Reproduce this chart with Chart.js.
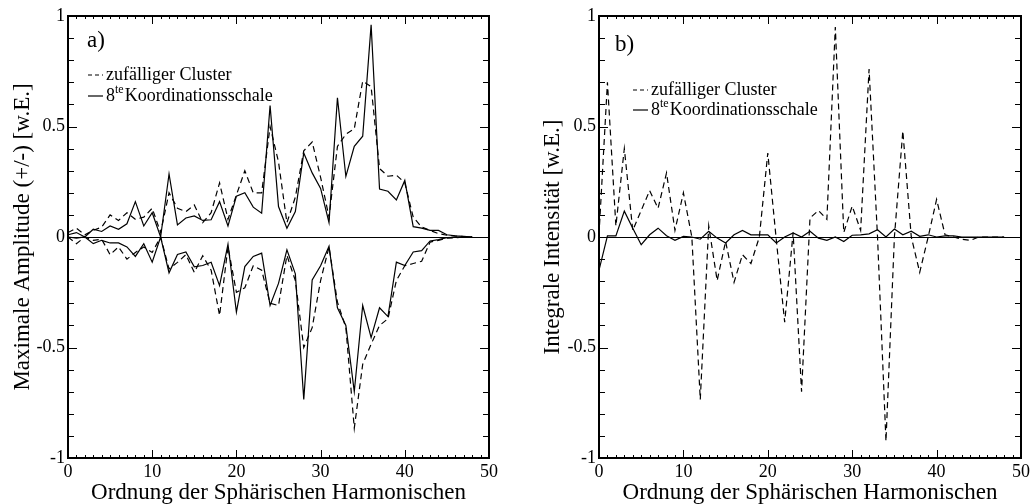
<!DOCTYPE html>
<html>
<head>
<meta charset="utf-8">
<script src="https://cdn.jsdelivr.net/npm/chart.js@4.4.0/dist/chart.umd.min.js"></script>
<style>
html, body { margin: 0; padding: 0; background: #fff; }
#wrap { position: relative; width: 1033px; height: 504px; }
.box { position: absolute; top: 0; height: 504px; }
</style>
</head>
<body>
<div id="wrap">
  <div class="box" style="left:0;width:516px"><canvas id="grafA" width="516" height="504"></canvas></div>
  <div class="box" style="left:516px;width:517px"><canvas id="grafB" width="517" height="504"></canvas></div>
</div>
<script>
// Ordnung l = 0 .. 48
var ordnung = [0,1,2,3,4,5,6,7,8,9,10,11,12,13,14,15,16,17,18,19,20,21,22,23,24,
               25,26,27,28,29,30,31,32,33,34,35,36,37,38,39,40,41,42,43,44,45,46,47,48];

// a) Maximale Amplitude, zufaelliger Cluster (gestrichelt)
var clusterMax = [0.02,0.04,0.01,0.03,0.045,0.10,0.075,0.11,0.08,0.09,0.13,0.02,0.20,0.13,0.115,0.145,0.065,0.11,0.245,0.08,
                  0.19,0.30,0.20,0.20,0.50,0.34,0.065,0.18,0.39,0.43,0.27,0.09,0.41,0.465,0.49,0.705,0.68,0.31,0.275,0.28,
                  0.245,0.09,0.045,0.03,0.015,0.008,0.004,0.002,0.0];
var clusterMin = [0.0,-0.03,0.0,-0.015,-0.01,-0.08,-0.045,-0.10,-0.07,-0.045,-0.07,0.0,-0.145,-0.115,-0.08,-0.16,-0.085,-0.15,-0.355,-0.045,
                  -0.25,-0.23,-0.13,-0.15,-0.30,-0.31,-0.083,-0.197,-0.50,-0.41,-0.197,-0.045,-0.295,-0.41,-0.865,-0.576,-0.485,-0.40,-0.37,-0.197,
                  -0.13,-0.12,-0.11,-0.023,-0.015,-0.005,-0.003,-0.001,0.0];
// a) 8te Koordinationsschale (durchgezogen)
var schaleMax = [0.01,0.02,0.0,0.035,0.025,0.05,0.035,0.06,0.16,0.05,0.11,0.0,0.285,0.055,0.086,0.095,0.075,0.078,0.16,0.05,
                 0.185,0.20,0.135,0.108,0.595,0.138,0.04,0.115,0.38,0.29,0.22,0.065,0.63,0.274,0.41,0.456,0.96,0.217,0.207,0.168,
                 0.256,0.047,0.04,0.03,0.03,0.01,0.005,0.003,0.0];
var schaleMin = [0.0,-0.005,0.0,-0.03,-0.015,-0.027,-0.027,-0.045,-0.088,-0.03,-0.114,0.0,-0.162,-0.079,-0.068,-0.135,-0.129,-0.114,-0.22,-0.033,
                 -0.34,-0.134,-0.088,-0.073,-0.31,-0.21,-0.058,-0.167,-0.735,-0.194,-0.13,-0.042,-0.32,-0.40,-0.70,-0.31,-0.455,-0.32,-0.36,-0.114,
                 -0.129,-0.068,-0.062,-0.018,-0.012,-0.003,-0.002,-0.001,0.0];

// b) Integrale Intensitaet
var clusterInt = [0.01,0.70,0.05,0.40,0.03,0.12,0.21,0.13,0.29,0.03,0.20,0.0,-0.735,0.05,-0.197,-0.02,-0.205,-0.08,-0.12,0.0,
                  0.38,-0.01,-0.386,0.02,-0.70,0.086,0.12,0.08,0.95,0.02,0.14,0.03,0.76,0.0,-0.924,0.0,0.48,0.0,-0.16,0.0,
                  0.17,0.01,0.0,-0.01,-0.015,0.0,0.0,0.0,0.0];
var schaleInt = [-0.15,0.005,0.005,0.117,0.04,-0.035,0.01,0.04,0.006,-0.015,0.003,0.0,-0.01,0.026,-0.005,-0.027,0.01,0.03,0.01,0.01,
                 0.01,-0.027,0.0,0.018,0.0,0.026,-0.005,-0.015,0.0,-0.02,0.008,0.01,0.014,0.033,0.0,0.036,0.01,0.026,0.003,0.01,
                 0.0,0.005,0.005,0.0,0.0,0.0,0.0,0.0,0.0];

var yTicks = [-1, -0.5, 0, 0.5, 1];
var serif = '"Liberation Serif", "Times New Roman", serif';

function punkte(werte) {
    return ordnung.map(function(n, i){ return {x: n, y: werte[i]}; });
}

function linie(label, werte, gestrichelt) {
    return {
        label: label,
        data: punkte(werte),
        borderColor: '#000',
        borderWidth: 1.2,
        borderDash: gestrichelt ? [6, 4] : [],
        pointRadius: 0,
        tension: 0,
        fill: false
    };
}

// Rahmen, Striche nach innen, Nulllinie, Legende im Diagramm
function rahmen(info) {
    return {
        id: 'rahmen',
        beforeDatasetsDraw: function(chart) {
            var c = chart.ctx, a = chart.chartArea;
            var y0 = Math.round(chart.scales.y.getPixelForValue(0)) + 0.5;
            c.save();
            c.strokeStyle = '#000'; c.lineWidth = 1;
            c.beginPath(); c.moveTo(a.left, y0); c.lineTo(a.right, y0); c.stroke();
            c.restore();
        },
        afterDraw: function(chart) {
            var c = chart.ctx, a = chart.chartArea, sx = chart.scales.x, sy = chart.scales.y;
            c.save();
            c.strokeStyle = '#000';
            c.lineWidth = 1;
            c.beginPath();
            for (var i = 1; i < 50; i++) {
                var px = Math.round(sx.getPixelForValue(i)) + 0.5;
                var len = (i % 10 === 0) ? 8 : 3;
                c.moveTo(px, a.bottom); c.lineTo(px, a.bottom - len);
                c.moveTo(px, a.top); c.lineTo(px, a.top + len);
            }
            for (var j = -9; j < 10; j++) {
                var py = Math.round(sy.getPixelForValue(j / 10)) + 0.5;
                var l2 = (j % 5 === 0) ? 9 : 6;
                c.moveTo(a.left, py); c.lineTo(a.left + l2, py);
                c.moveTo(a.right, py); c.lineTo(a.right - l2, py);
            }
            c.stroke();
            c.lineWidth = 2;
            c.strokeRect(Math.round(a.left), Math.round(a.top), Math.round(a.right - a.left), Math.round(a.bottom - a.top));

            // Beschriftung a) / b)
            c.fillStyle = '#000';
            c.textBaseline = 'middle';
            c.textAlign = 'left';
            c.font = '23px ' + serif;
            c.fillText(info.tag, info.tagX, info.tagY);

            // Legende
            c.font = '18px ' + serif;
            c.lineWidth = 1.2;
            c.setLineDash([4, 3]);
            c.beginPath(); c.moveTo(info.lx, info.ly1); c.lineTo(info.lx + 15, info.ly1); c.stroke();
            c.setLineDash([]);
            c.beginPath(); c.moveTo(info.lx, info.ly2); c.lineTo(info.lx + 15, info.ly2); c.stroke();
            var tx = info.lx + 18;
            c.fillText(chart.data.datasets[0].label, tx, info.ly1);
            c.fillText('8', tx, info.ly2);
            var w8 = c.measureText('8').width;
            c.font = '12px ' + serif;
            c.fillText('te', tx + w8, info.ly2 - 6);
            var wte = c.measureText('te').width;
            c.font = '18px ' + serif;
            c.fillText('Koordinationsschale', tx + w8 + wte + 1, info.ly2);
            c.restore();
        }
    };
}

function optionen(yTitel, yBreite, titelAbstand, rechts) {
    return {
        responsive: false,
        animation: false,
        layout: { padding: { top: 16, right: rechts, left: 0, bottom: 0 } },
        plugins: { legend: { display: false }, tooltip: { enabled: false } },
        scales: {
            x: {
                type: 'linear', min: 0, max: 50,
                grid: { display: false, drawTicks: false },
                border: { display: false },
                ticks: { stepSize: 10, padding: 3, color: '#000', font: { family: serif, size: 18 } },
                title: { display: true, text: 'Ordnung der Sphärischen Harmonischen', color: '#000',
                         padding: { top: 0, bottom: 0 }, font: { family: serif, size: 23, lineHeight: 1 } },
                afterFit: function(s) { s.height = 46; }
            },
            y: {
                type: 'linear', min: -1, max: 1,
                grid: { display: false, drawTicks: false },
                border: { display: false },
                afterBuildTicks: function(s) { s.ticks = yTicks.map(function(v){ return {value: v}; }); },
                ticks: { padding: 3, color: '#000', font: { family: serif, size: 18 },
                         callback: function(v) { return String(v); } },
                title: { display: true, text: yTitel, color: '#000',
                         padding: { top: titelAbstand, bottom: 0 }, font: { family: serif, size: 23, lineHeight: 1 } },
                afterFit: function(s) { s.width = yBreite; }
            }
        }
    };
}

window.onload = function(){
    new Chart(document.getElementById('grafA').getContext('2d'), {
        type: 'line',
        data: {
            datasets: [
                linie('zufälliger Cluster', clusterMax, true),
                linie('8te Koordinationsschale', schaleMax, false),
                linie('zufälliger Cluster', clusterMin, true),
                linie('8te Koordinationsschale', schaleMin, false)
            ]
        },
        options: optionen('Maximale Amplitude (+/-) [w.E.]', 68, 11, 27),
        plugins: [rahmen({ tag: 'a)', tagX: 87, tagY: 41, lx: 88, ly1: 75, ly2: 96 })]
    });

    new Chart(document.getElementById('grafB').getContext('2d'), {
        type: 'line',
        data: {
            datasets: [
                linie('zufälliger Cluster', clusterInt, true),
                linie('8te Koordinationsschale', schaleInt, false)
            ]
        },
        options: optionen('Integrale Intensität [w.E.]', 83, 25, 12),
        plugins: [rahmen({ tag: 'b)', tagX: 99, tagY: 45, lx: 117, ly1: 90, ly2: 110 })]
    });
};
</script>
</body>
</html>
